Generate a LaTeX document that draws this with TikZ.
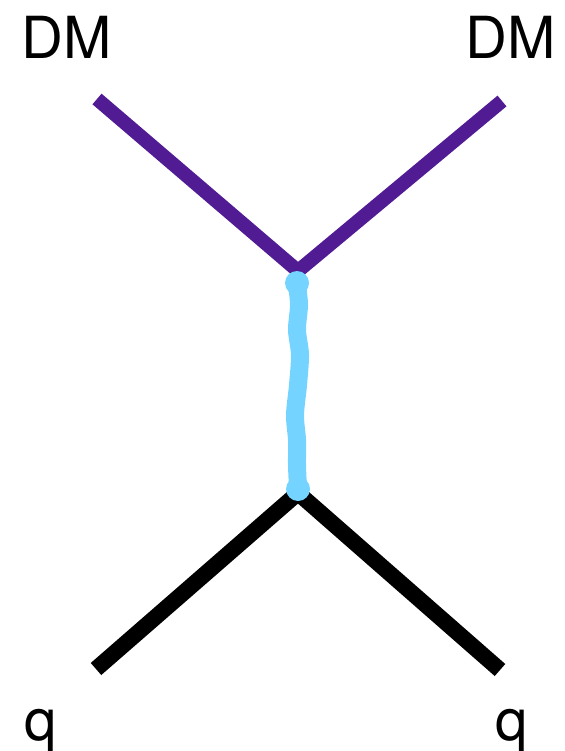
\documentclass[tikz,border=0pt]{standalone}
\usepackage{fontspec}
\setmainfont{TeX Gyre Heros}
\usetikzlibrary{positioning}
\definecolor{dmviolet}{RGB}{81,27,148}
\definecolor{medsky}{RGB}{117,212,255}
\definecolor{ink}{RGB}{0,0,0}
\tikzset{
  x=1pt,y=-1pt,
  dm line/.style={draw=dmviolet,line width=14pt},
  quark line/.style={draw=ink,line width=16pt},
  mediator/.style={draw=medsky,line width=18pt,line cap=round,line join=round},
  blob/.style={fill=medsky,circle,minimum size=24pt,inner sep=0pt},
  tag/.style={font=\fontsize{58}{58}\selectfont,text=ink,inner sep=0pt,anchor=base},
}
\begin{document}
\begin{tikzpicture}
  \useasboundingbox (0,0) rectangle (564,751);
  % vertices and free ends
  \coordinate (top) at (298,271);
  \coordinate (bot) at (298,493);
  \coordinate (dmL) at (97,99);
  \coordinate (dmR) at (502,101);
  \coordinate (qL) at (96,669);
  \coordinate (qR) at (500,670);
  % lines
  \draw[dm line] (dmL) -- (top) -- (dmR);
  \draw[quark line] (qL) -- (bot) -- (qR);
  \draw[mediator] plot[smooth] coordinates {(297,285) (299,305) (297,330) (300,355) (298,385) (295,415) (297,440) (297,465) (298,488)};
  \node[blob] (mtop) at (297,283) {};
  \node[blob] (mbot) at (298,489) {};
  % labels
  \node[tag] (dmLtag) at (67,59) {DM};
  \node[tag] (dmRtag) at (511,59) {DM};
  \node[tag] (qLtag) at (41,740) {q};
  \node[tag] (qRtag) at (512,740) {q};
\end{tikzpicture}
\end{document}
